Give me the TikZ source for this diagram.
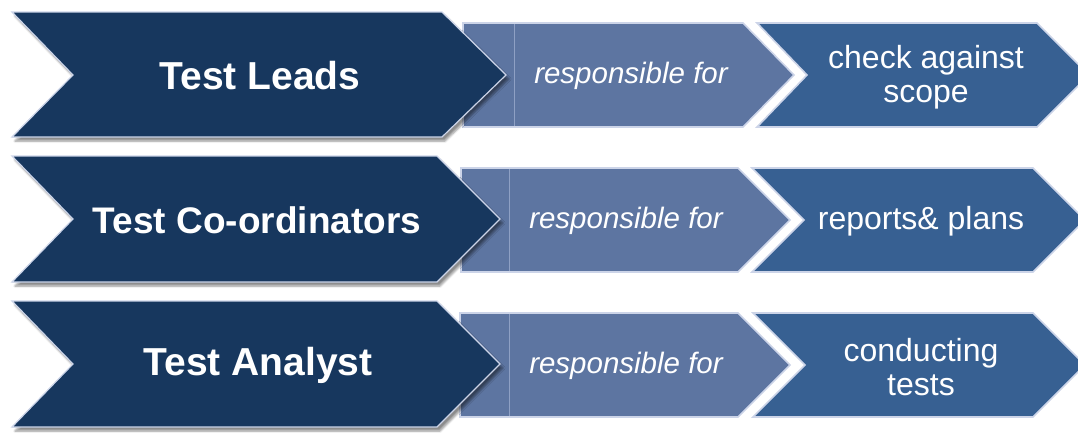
\documentclass[tikz,border=0pt]{standalone}
\usepackage{fontspec}
\setmainfont{Liberation Sans}
\usetikzlibrary{shadows.blur}
\definecolor{navy}{HTML}{17375E}
\definecolor{midblue}{HTML}{5D75A1}
\definecolor{rblue}{HTML}{376092}
\definecolor{rim}{HTML}{CCD4E8}
\definecolor{seam}{HTML}{8EA0C4}
\tikzset{
  bigchev/.style={fill=navy, draw=rim, line width=1.2pt,
    blur shadow={shadow xshift=3pt, shadow yshift=-4pt, shadow blur steps=6, shadow opacity=45}},
  midchev/.style={fill=midblue, draw=rim, line width=1.6pt},
  rchev/.style={fill=rblue, draw=rim, line width=1.6pt},
  seamline/.style={draw=seam, line width=0.6pt},
  bigtxt/.style={text=white, font=\fontsize{39}{42}\selectfont\bfseries, align=center},
  midtxt/.style={text=white, font=\fontsize{29.5}{32}\selectfont\itshape, align=center},
  rtxt/.style={text=white, font=\fontsize{32}{34}\selectfont, align=center}
}
\begin{document}
\begin{tikzpicture}[x=1pt,y=-1pt]
\useasboundingbox (0,0) rectangle (1078,432);
% ---------- Row 1 ----------
\path[midchev] (463,23) -- (743,23) -- (794,75) -- (743,127) -- (463,127) -- cycle;
\path[seamline] (514,24) -- (514,126);
\path[rchev] (757,23) -- (1037,23) -- (1089,75) -- (1037,127) -- (757,127) -- (807,75) -- cycle;
\path[bigchev] (12,12) -- (442,12) -- (506,75) -- (442,137) -- (12,137) -- (73,75) -- cycle;
\node[bigtxt] (lead) at (260,76) {Test Leads};
\node[midtxt] (resp1) at (631,76) {responsible for};
\node[rtxt] (task1) at (926,77) {check against\\scope};
% ---------- Row 2 ----------
\path[midchev] (461,168) -- (738,168) -- (790,220) -- (738,272) -- (461,272) -- cycle;
\path[seamline] (509,169) -- (509,271);
\path[rchev] (752,168) -- (1033,168) -- (1085,220) -- (1033,272) -- (752,272) -- (804,220) -- cycle;
\path[bigchev] (12,156) -- (437,156) -- (500,219) -- (437,282) -- (12,282) -- (73,219) -- cycle;
\node[bigtxt, font=\fontsize{37}{40}\selectfont\bfseries] (coord) at (257,220) {Test Co-ordinators};
\node[midtxt] (resp2) at (626,221) {responsible for};
\node[rtxt] (task2) at (921,221) {reports\& plans};
% ---------- Row 3 ----------
\path[midchev] (460,313) -- (738,313) -- (790,365) -- (738,417) -- (460,417) -- cycle;
\path[seamline] (509,314) -- (509,416);
\path[rchev] (753,313) -- (1033,313) -- (1085,365) -- (1033,417) -- (753,417) -- (805,365) -- cycle;
\path[bigchev] (12,301) -- (437,301) -- (500,364) -- (437,427) -- (12,427) -- (73,364) -- cycle;
\node[bigtxt] (analyst) at (258,365) {Test Analyst};
\node[midtxt] (resp3) at (626,366) {responsible for};
\node[rtxt] (task3) at (921,367) {conducting\\tests};
\end{tikzpicture}
\end{document}
